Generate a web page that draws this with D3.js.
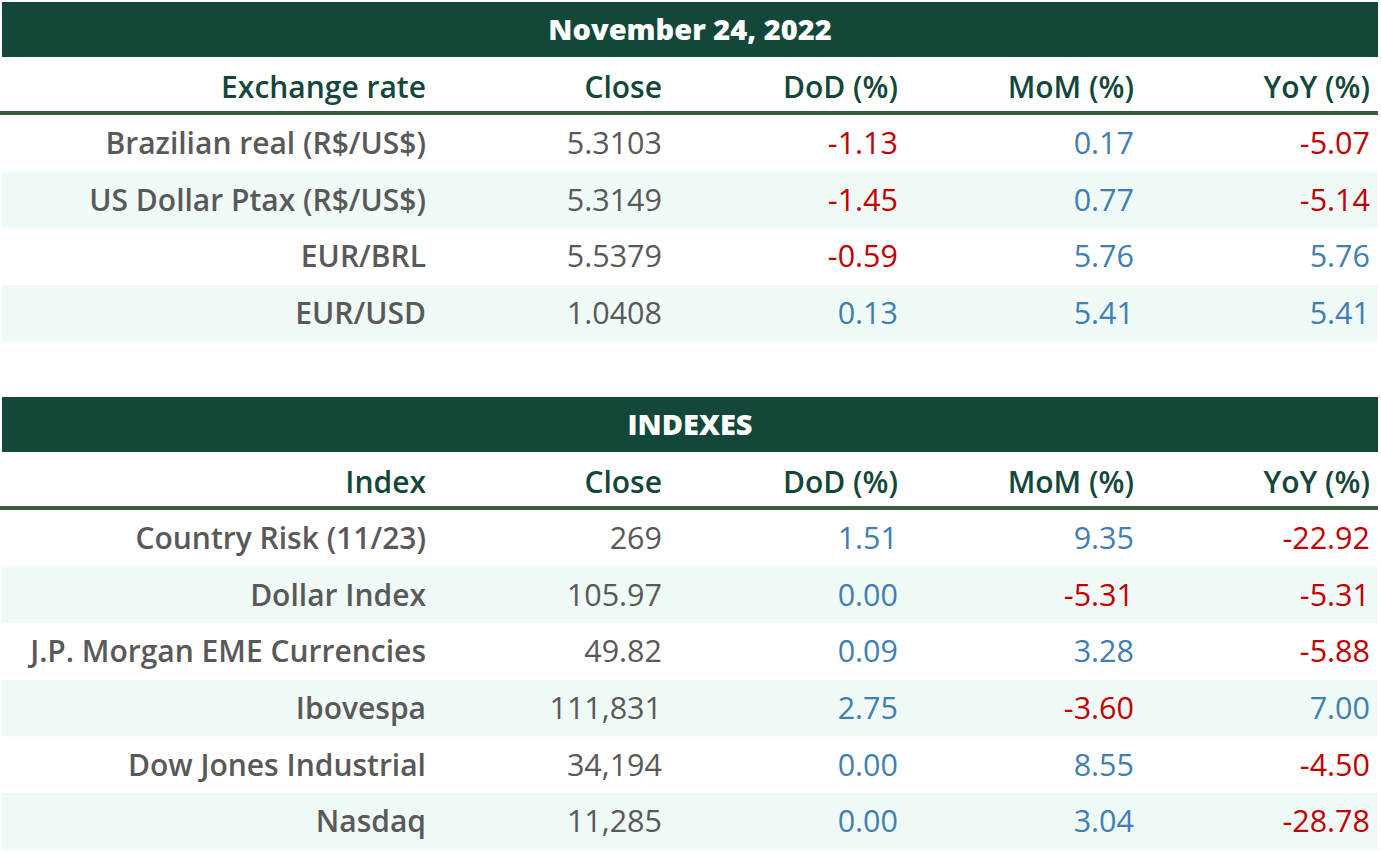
<!DOCTYPE html>
<html>
<head>
<meta charset="utf-8">
<script src="https://cdn.jsdelivr.net/npm/d3@7"></script>
<style>
  body { margin: 0; background: #fff; }
  text { font-family: "Open Sans", Lato, sans-serif; }
</style>
</head>
<body>
<svg id="chart" width="1381" height="851"></svg>
<script>
// table data
var titles = ["November 24, 2022", "INDEXES"];
var headers1 = ["Exchange rate", "Close", "DoD (%)", "MoM (%)", "YoY (%)"];
var headers2 = ["Index", "Close", "DoD (%)", "MoM (%)", "YoY (%)"];

var fxLabels = ["Brazilian real (R$/US$)", "US Dollar Ptax (R$/US$)", "EUR/BRL", "EUR/USD"];
var fxClose = ["5.3103", "5.3149", "5.5379", "1.0408"];
var fxDoD = [-1.13, -1.45, -0.59, 0.13];
var fxMoM = [0.17, 0.77, 5.76, 5.41];
var fxYoY = [-5.07, -5.14, 5.76, 5.41];

var idxLabels = ["Country Risk (11/23)", "Dollar Index", "J.P. Morgan EME Currencies", "Ibovespa", "Dow Jones Industrial", "Nasdaq"];
var idxClose = ["269", "105.97", "49.82", "111,831", "34,194", "11,285"];
var idxDoD = [1.51, 0.00, 0.09, 2.75, 0.00, 0.00];
var idxMoM = [9.35, -5.31, 3.28, -3.60, 8.55, 3.04];
var idxYoY = [-22.92, -5.31, -5.88, 7.00, -4.50, -28.78];

var svg = d3.select("#chart");

var left = 2, right = 1378;
var colKeys = ["label", "close", "dod", "mom", "yoy"];
// right edge of each column
var colRight = d3.scaleOrdinal()
    .domain(colKeys)
    .range([434, 670, 906, 1142, 1378]);
var padRight = 8;

var green = "#12473a", lineGreen = "#3b5c38", shade = "#f0faf6";
var grey = "#595959", red = "#c00000", blue = "#3f7fb3";

function fmt(v) { return v.toFixed(2); }
function numColor(v) { return v < 0 ? red : blue; }

function makeTable(top, title, headers, labels, close, dod, mom, yoy) {
  var g = svg.append("g");
  var titleH = 55, headH = 54, lineH = 4, rowH = 56.6;

  // title bar
  g.append("rect")
    .attr("x", left).attr("y", top)
    .attr("width", right - left).attr("height", titleH)
    .attr("fill", green);
  g.append("text")
    .attr("x", (left + right) / 2).attr("y", top + titleH / 2)
    .attr("dy", "0.36em")
    .attr("text-anchor", "middle")
    .attr("fill", "#fff")
    .attr("font-size", 29).attr("font-weight", 800)
    .text(title);

  // column headers
  var headTop = top + titleH;
  g.selectAll("text.head")
    .data(headers)
    .join("text")
    .attr("class", "head")
    .attr("x", (d, i) => colRight(colKeys[i]) - padRight)
    .attr("y", headTop + headH / 2 + 3)
    .attr("dy", "0.36em")
    .attr("text-anchor", "end")
    .attr("fill", green)
    .attr("font-size", 30).attr("font-weight", 600)
    .text(d => d);

  g.append("rect")
    .attr("x", 0).attr("y", headTop + headH)
    .attr("width", right).attr("height", lineH)
    .attr("fill", lineGreen);

  var rowsTop = headTop + headH + lineH;
  var y = d3.scaleBand()
    .domain(d3.range(labels.length))
    .range([rowsTop, rowsTop + rowH * labels.length]);

  var rows = labels.map((l, i) => ({
    label: l, close: close[i], dod: dod[i], mom: mom[i], yoy: yoy[i], i: i
  }));

  g.selectAll("rect.shade")
    .data(rows.filter(r => r.i % 2 === 1))
    .join("rect")
    .attr("class", "shade")
    .attr("x", left).attr("y", r => y(r.i))
    .attr("width", right - left).attr("height", y.bandwidth())
    .attr("fill", shade);

  var cells = [];
  rows.forEach(r => {
    cells.push({ k: "label", i: r.i, t: r.label, c: grey, w: 600, s: 30 });
    cells.push({ k: "close", i: r.i, t: r.close, c: grey, w: 400, s: 30.5 });
    ["dod", "mom", "yoy"].forEach(k => {
      cells.push({ k: k, i: r.i, t: fmt(r[k]), c: numColor(r[k]), w: 400, s: 30.5 });
    });
  });

  g.selectAll("text.cell")
    .data(cells)
    .join("text")
    .attr("class", "cell")
    .attr("x", d => colRight(d.k) - padRight)
    .attr("y", d => y(d.i) + y.bandwidth() / 2)
    .attr("dy", "0.36em")
    .attr("text-anchor", "end")
    .attr("fill", d => d.c)
    .attr("font-size", d => d.s).attr("font-weight", d => d.w)
    .text(d => d.t);
}

makeTable(2, titles[0], headers1, fxLabels, fxClose, fxDoD, fxMoM, fxYoY);
makeTable(397, titles[1], headers2, idxLabels, idxClose, idxDoD, idxMoM, idxYoY);
</script>
</body>
</html>
